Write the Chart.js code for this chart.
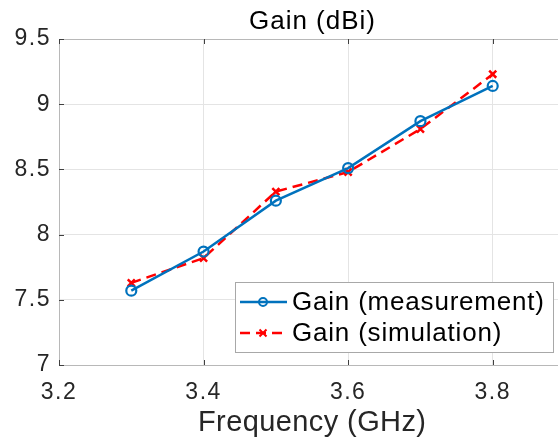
<!DOCTYPE html>
<html><head><meta charset="utf-8">
<script src="https://cdn.jsdelivr.net/npm/chart.js@4/dist/chart.umd.min.js"></script>
<style>
html,body{margin:0;padding:0;background:#fff;overflow:hidden;width:558px;height:441px}
#wrap{position:relative;width:620px;height:441px}
</style></head>
<body><div id="wrap"><canvas id="c" width="620" height="441"></canvas></div>
<script>
const chartTitle = 'Gain (dBi)';
const xAxisTitle = 'Frequency (GHz)';
const frequencies = [3.3, 3.4, 3.5, 3.6, 3.7, 3.8];
const gainMeasured = [7.57, 7.87, 8.26, 8.51, 8.87, 9.14];
const gainSimulated = [7.63, 7.82, 8.33, 8.48, 8.81, 9.23];
const seriesLabels = ['Gain (measurement)', 'Gain (simulation)'];
const xTickValues = [3.2, 3.4, 3.6, 3.8];
const yTickValues = [7, 7.5, 8, 8.5, 9, 9.5];

const FONT = '"Liberation Sans", Arial, sans-serif';
const toPoints = (xs, ys) => xs.map((x, i) => ({x: x, y: ys[i]}));

function spacedText(ctx, text, x, y, font, spacing, align, color) {
  ctx.save();
  ctx.font = font;
  ctx.fillStyle = color;
  ctx.textBaseline = 'middle';
  ctx.letterSpacing = spacing + 'px';
  ctx.textAlign = 'left';
  let w = ctx.measureText(text).width;
  if ('letterSpacing' in ctx) w -= spacing;
  let sx = x;
  if (align === 'center') sx = x - w / 2;
  ctx.fillText(text, sx, y);
  ctx.restore();
}

const framePlugin = {
  id: 'frame',
  beforeDraw(chart) {
    chart.ctx.letterSpacing = '1.5px';
  },
  beforeDatasetsDraw(chart) {
    const {ctx, chartArea: a} = chart;
    ctx.save();
    ctx.strokeStyle = '#b8b8b8';
    ctx.lineWidth = 1;
    ctx.strokeRect(a.left + 0.5, a.top + 0.5, a.right - a.left, a.bottom - a.top);
    ctx.strokeStyle = '#404040';
    const xs = chart.scales.x, ys = chart.scales.y;
    ctx.beginPath();
    xTickValues.forEach(v => {
      const px = Math.round(xs.getPixelForValue(v)) + 0.5;
      ctx.moveTo(px, a.bottom); ctx.lineTo(px, a.bottom - 5);
      ctx.moveTo(px, a.top); ctx.lineTo(px, a.top + 5);
    });
    yTickValues.forEach(v => {
      const py = Math.round(ys.getPixelForValue(v)) + 0.5;
      ctx.moveTo(a.left, py); ctx.lineTo(a.left + 5, py);
      ctx.moveTo(a.right, py); ctx.lineTo(a.right - 5, py);
    });
    ctx.stroke();
    ctx.restore();
  },
  afterDraw(chart) {
    const {ctx, chartArea: a} = chart;
    spacedText(ctx, chartTitle, (a.left + a.right) / 2, 22, '26px ' + FONT, 1, 'center', '#000');
    spacedText(ctx, xAxisTitle, (a.left + a.right) / 2, 423, '29px ' + FONT, 0.4, 'center', '#262626');

    const w = 318, h = 70;
    const right = a.right - 12, bottom = a.bottom - 13;
    const left = right - w, top = bottom - h;
    ctx.save();
    ctx.fillStyle = '#fff';
    ctx.fillRect(left, top, w, h);
    ctx.strokeStyle = '#a8a8a8';
    ctx.lineWidth = 1;
    ctx.strokeRect(left + 0.5, top + 0.5, w, h);
    chart.data.datasets.forEach((ds, i) => {
      const cy = top + 20 + i * 31;
      ctx.save();
      ctx.strokeStyle = ds.borderColor;
      ctx.lineWidth = ds.borderWidth;
      ctx.setLineDash(ds.borderDash || []);
      ctx.beginPath();
      ctx.moveTo(left + 5, cy);
      ctx.lineTo(left + 52, cy);
      ctx.stroke();
      ctx.setLineDash([]);
      const mx = left + 28;
      ctx.lineWidth = 2;
      ctx.beginPath();
      if (ds.pointStyle === 'circle') {
        ctx.arc(mx, cy, 4, 0, Math.PI * 2);
      } else {
        const r = 3.5;
        ctx.moveTo(mx - r, cy - r); ctx.lineTo(mx + r, cy + r);
        ctx.moveTo(mx - r, cy + r); ctx.lineTo(mx + r, cy - r);
      }
      ctx.stroke();
      ctx.restore();
      spacedText(ctx, ds.label, left + 57, cy + 1, '26px ' + FONT, 0.8, 'left', '#000');
    });
    ctx.restore();
  }
};

new Chart(document.getElementById('c'), {
  type: 'scatter',
  data: {
    datasets: [
      {
        label: seriesLabels[0],
        data: toPoints(frequencies, gainMeasured),
        showLine: true,
        borderColor: '#0072BD',
        backgroundColor: 'rgba(0,0,0,0)',
        borderWidth: 2.5,
        pointStyle: 'circle',
        pointRadius: 5,
        pointBorderWidth: 2.2,
        pointBorderColor: '#0072BD',
        pointBackgroundColor: 'rgba(0,0,0,0)'
      },
      {
        label: seriesLabels[1],
        data: toPoints(frequencies, gainSimulated),
        showLine: true,
        borderColor: '#FF0000',
        backgroundColor: 'rgba(0,0,0,0)',
        borderWidth: 2.5,
        borderDash: [10, 6],
        pointStyle: 'crossRot',
        pointRadius: 5,
        pointBorderWidth: 2.5,
        pointBorderColor: '#FF0000'
      }
    ]
  },
  options: {
    responsive: false,
    animation: false,
    layout: {padding: {left: 0, right: 55, top: 39, bottom: 0}},
    plugins: {
      legend: {display: false},
      title: {display: false},
      tooltip: {enabled: false}
    },
    scales: {
      x: {
        type: 'linear',
        min: 3.2, max: 3.9,
        afterBuildTicks: s => { s.ticks = xTickValues.map(v => ({value: v})); },
        afterFit: s => { s.height = 76; },
        border: {display: false},
        grid: {color: '#e4e4e4', lineWidth: 1, drawTicks: false},
        ticks: {
          color: '#262626', padding: 14,
          font: {family: FONT, size: 23},
          callback: v => String(v)
        },
        title: {display: false}
      },
      y: {
        type: 'linear',
        min: 7, max: 9.5,
        afterBuildTicks: s => { s.ticks = yTickValues.map(v => ({value: v})); },
        afterFit: s => { s.width = 59; },
        border: {display: false},
        grid: {color: '#e4e4e4', lineWidth: 1, drawTicks: false},
        ticks: {
          color: '#262626', padding: 8,
          font: {family: FONT, size: 23},
          callback: v => String(v)
        }
      }
    }
  },
  plugins: [framePlugin]
});
</script>
</body></html>
